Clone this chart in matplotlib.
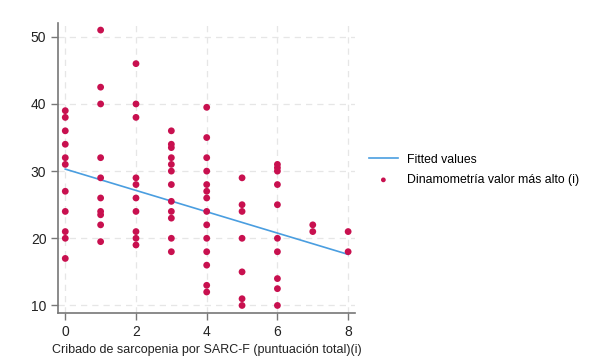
import numpy as np
import matplotlib
matplotlib.use('Agg')
import matplotlib.pyplot as plt

plt.rcParams['font.family'] = ['Liberation Sans', 'DejaVu Sans']

# puntos por puntuación SARC-F
sarc_0 = [39, 38, 36, 34, 32, 31, 27, 24, 21, 20, 17]
sarc_1 = [51, 42.5, 40, 32, 29, 26, 24, 23.5, 22, 19.5]
sarc_2 = [46, 40, 38, 29, 28, 26, 24, 21, 20, 19]
sarc_3 = [36, 34, 33.5, 32, 31, 30, 28, 25.5, 24, 23, 20, 18]
sarc_4 = [39.5, 35, 32, 30, 28, 27, 26, 24, 22, 20, 18, 16, 13, 12]
sarc_5 = [29, 25, 24, 20, 15, 11, 10]
sarc_6 = [31, 30.5, 30, 28, 25, 20, 18, 14, 12.5, 10]
sarc_7 = [22, 21]
sarc_8 = [21, 18]

groups = [sarc_0, sarc_1, sarc_2, sarc_3, sarc_4, sarc_5, sarc_6, sarc_7, sarc_8]
x = np.concatenate([[i] * len(g) for i, g in enumerate(groups)])
y = np.concatenate(groups)

# recta ajustada
fit_x = [0, 8]
fit_y = [30.3, 17.6]

fig = plt.figure(figsize=(6, 3.6), dpi=100)
ax = fig.add_axes([0.097, 0.131, 0.495, 0.806])

ax.plot(fit_x, fit_y, color='#4a9ee0', lw=1.2, label='Fitted values', zorder=2)
ax.scatter(x, y, s=24, color='#c8104f', edgecolor='none', label='Dinamometría valor más alto (i)', zorder=3)

ax.set_xlim(-0.2, 8.2)
ax.set_ylim(8.9, 52.1)
ax.set_xticks([0, 2, 4, 6, 8])
ax.set_yticks([10, 20, 30, 40, 50])
ax.grid(True, color='#e6e6e6', ls=(0, (5, 4)), lw=0.9)
ax.set_axisbelow(True)
for s in ['top', 'right']:
    ax.spines[s].set_visible(False)
for s in ['left', 'bottom']:
    ax.spines[s].set_color('#777777')
    ax.spines[s].set_linewidth(1.2)
ax.tick_params(direction='out', length=5, width=1, color='#777777', labelsize=10, labelcolor='#222222')
ax.set_xlabel('Cribado de sarcopenia por SARC-F (puntuación total)(i)', fontsize=9, color='#222222', labelpad=4)

ax.legend(loc='center left', bbox_to_anchor=(1.029, 0.493), borderaxespad=0, frameon=False,
          fontsize=8.8, handlelength=2.4, handletextpad=0.75, labelspacing=0.7, markerscale=0.7)

fig.savefig('out.png', dpi=100)
